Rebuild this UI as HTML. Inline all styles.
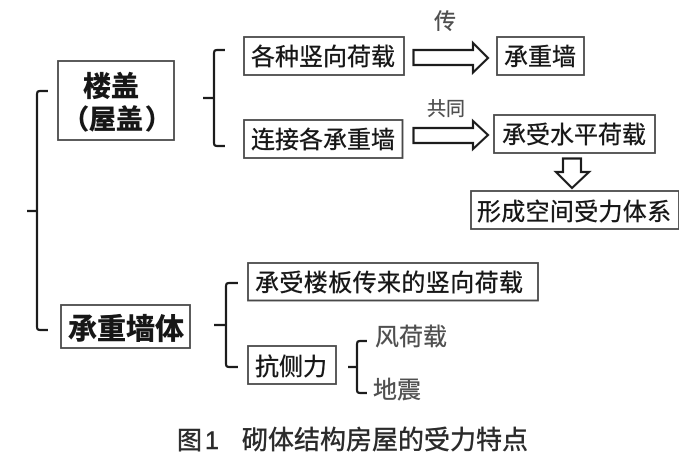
<!DOCTYPE html>
<html><head><meta charset="utf-8"><style>
html,body{margin:0;padding:0;background:#fff;width:700px;height:459px;overflow:hidden}
svg{display:block}
text{font-family:"Liberation Sans","Noto Sans CJK SC",sans-serif;fill:#141414;stroke:#141414;stroke-width:.35}
.h{font-weight:700;stroke-width:.5}
.g{fill:#505050;stroke:#505050;stroke-width:.3}
.c{fill:#2c2c2c;stroke:#2c2c2c;stroke-width:.45}
.b{fill:#fff;stroke:#4a4a4a;stroke-width:1.8}
.l{fill:none;stroke:#1c1c1c;stroke-width:2.2}
.a{fill:#fff;stroke:#1f1f1f;stroke-width:2.2}
</style></head><body>
<svg width="700" height="459" viewBox="0 0 700 459" xmlns="http://www.w3.org/2000/svg">
<defs><filter id="s" x="0" y="0" width="100%" height="100%"><feGaussianBlur stdDeviation="0.35"/></filter></defs>
<g filter="url(#s)">
<rect class="b" x="58" y="61" width="116" height="79"/>
<rect class="b" x="244" y="37" width="160" height="38"/>
<rect class="b" x="244" y="120" width="158.500" height="38"/>
<rect class="b" x="497" y="37" width="87" height="38"/>
<rect class="b" x="494" y="115" width="161" height="38"/>
<rect class="b" x="471" y="191" width="208" height="38"/>
<rect class="b" x="248" y="263" width="290" height="37.500"/>
<rect class="b" x="61" y="305" width="129" height="43"/>
<rect class="b" x="248" y="346" width="88" height="38"/>
<path class="l" d="M48 91H40Q37 91 37 94V327Q37 330 40 330H48M27 211H37"/>
<path class="l" d="M225 50H217Q214 50 214 53V143Q214 146 217 146H225M203 98H214"/>
<path class="l" d="M238 283H229Q226 283 226 286V364Q226 367 229 367H238M214 325H226"/>
<path class="l" d="M367 341H360Q357 341 357 344V390Q357 393 360 393H367M348 367H357"/>
<path class="a" d="M413.500 50H473V43L488 58 473 72.500V65H413.500Z"/>
<path class="a" d="M413.500 128H473V121L488 135 473 149V143H413.500Z"/>
<path class="a" d="M563 158.500H581V172H589L572 188 556 172H563Z"/>
<text class="h" x="83" y="96" font-size="28">楼盖</text>
<text class="h" x="62" y="129" font-size="27">（</text>
<text class="h" x="89" y="129" font-size="27">屋盖</text>
<text class="h" x="145" y="129" font-size="27">）</text>
<text x="251" y="65" font-size="24">各种竖向荷载</text>
<text x="251" y="148" font-size="24">连接各承重墙</text>
<text x="504" y="65" font-size="24">承重墙</text>
<text x="502" y="143" font-size="24">承受水平荷载</text>
<text x="477" y="220" font-size="24" letter-spacing=".3">形成空间受力体系</text>
<text x="255" y="291" font-size="24" letter-spacing=".4">承受楼板传来的竖向荷载</text>
<text class="h" x="68" y="339" font-size="29">承重墙体</text>
<text x="255" y="375" font-size="24">抗侧力</text>
<text class="g" x="434" y="29" font-size="22">传</text>
<text class="g" x="427" y="115" font-size="19">共同</text>
<text class="g" x="375" y="345" font-size="24">风荷载</text>
<text class="g" x="373" y="398" font-size="24">地震</text>
<text class="c" x="177" y="449" font-size="25">图</text>
<text class="c" x="205" y="449" font-size="25">1</text>
<text class="c" x="242" y="449" font-size="26">砌体结构房屋的受力特点</text>
</g>
</svg>
</body></html>
